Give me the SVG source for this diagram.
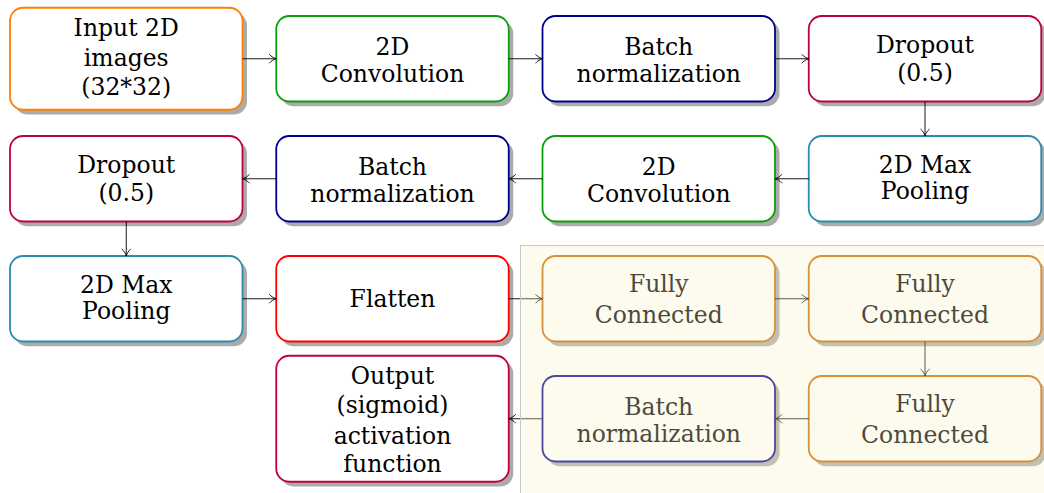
<svg xmlns="http://www.w3.org/2000/svg" width="1044" height="493" viewBox="0 0 1044 493">
  <defs>
    <filter id="soft" x="-5%" y="-5%" width="110%" height="110%">
      <feGaussianBlur stdDeviation="0.5"/>
    </filter>
    <marker id="tip" viewBox="-8 -5 9 10" refX="0" refY="0" markerWidth="9" markerHeight="10" markerUnits="userSpaceOnUse" orient="auto">
      <path d="M -7 -4.5 C -5 -2 -2 -0.6 0 0 C -2 0.6 -5 2 -7 4.5" fill="none" stroke="#000" stroke-width="0.9"/>
    </marker>
    <style>
      .shadow { fill: #ababab; filter: url(#soft); }
      .box { fill: #ffffff; stroke-width: 1.8; }
      .lbl { font-family: "DejaVu Serif", "Liberation Serif", serif; font-size: 23.5px; fill: #000; text-anchor: middle; }
      .orange { stroke: #ff8000; }
      .green { stroke: #0a9f0a; }
      .navy { stroke: #00008b; }
      .purple { stroke: #bf0040; }
      .teal { stroke: #2b8cab; }
      .red { stroke: #ff0000; }
      .amber { stroke: #cc6600; }
      .edge { fill: none; stroke: #000; stroke-width: 0.9; marker-end: url(#tip); }
    </style>
  </defs>

  <rect width="1044" height="493" fill="#ffffff"/>

  <!-- row 1 -->
  <g id="input">
    <rect class="shadow" x="14.5" y="12.5" width="232.5" height="102" rx="13"/>
    <rect class="box orange" x="10" y="7.75" width="232.5" height="102" rx="13"/>
    <text class="lbl" x="126.25" y="36">Input 2D</text>
    <text class="lbl" x="126.25" y="65.7">images</text>
    <text class="lbl" x="126.25" y="95">(32*32)</text>
  </g>
  <g id="conv1">
    <rect class="shadow" x="280.75" y="20.75" width="232.5" height="85.5" rx="13"/>
    <rect class="box green" x="276.25" y="16" width="232.5" height="85.5" rx="13"/>
    <text class="lbl" x="392.5" y="55">2D</text>
    <text class="lbl" x="392.5" y="81.7">Convolution</text>
  </g>
  <g id="bn1">
    <rect class="shadow" x="547" y="20.75" width="232.5" height="85.5" rx="13"/>
    <rect class="box navy" x="542.5" y="16" width="232.5" height="85.5" rx="13"/>
    <text class="lbl" x="658.75" y="55">Batch</text>
    <text class="lbl" x="658.75" y="81.7">normalization</text>
  </g>
  <g id="drop1">
    <rect class="shadow" x="813.25" y="20.75" width="232.5" height="85.5" rx="13"/>
    <rect class="box purple" x="808.75" y="16" width="232.5" height="85.5" rx="13"/>
    <text class="lbl" x="925" y="52.5">Dropout</text>
    <text class="lbl" x="925" y="80.5">(0.5)</text>
  </g>

  <!-- row 2 -->
  <g id="pool1">
    <rect class="shadow" x="813.25" y="140.75" width="232.5" height="85.5" rx="13"/>
    <rect class="box teal" x="808.75" y="136" width="232.5" height="85.5" rx="13"/>
    <text class="lbl" x="925" y="173">2D Max</text>
    <text class="lbl" x="925" y="199.3">Pooling</text>
  </g>
  <g id="conv2">
    <rect class="shadow" x="547" y="140.75" width="232.5" height="85.5" rx="13"/>
    <rect class="box green" x="542.5" y="136" width="232.5" height="85.5" rx="13"/>
    <text class="lbl" x="658.75" y="175">2D</text>
    <text class="lbl" x="658.75" y="201.7">Convolution</text>
  </g>
  <g id="bn2">
    <rect class="shadow" x="280.75" y="140.75" width="232.5" height="85.5" rx="13"/>
    <rect class="box navy" x="276.25" y="136" width="232.5" height="85.5" rx="13"/>
    <text class="lbl" x="392.5" y="175">Batch</text>
    <text class="lbl" x="392.5" y="201.7">normalization</text>
  </g>
  <g id="drop2">
    <rect class="shadow" x="14.5" y="140.75" width="232.5" height="85.5" rx="13"/>
    <rect class="box purple" x="10" y="136" width="232.5" height="85.5" rx="13"/>
    <text class="lbl" x="126.25" y="172.5">Dropout</text>
    <text class="lbl" x="126.25" y="200.5">(0.5)</text>
  </g>

  <!-- row 3 -->
  <g id="pool2">
    <rect class="shadow" x="14.5" y="260.75" width="232.5" height="85.5" rx="13"/>
    <rect class="box teal" x="10" y="256" width="232.5" height="85.5" rx="13"/>
    <text class="lbl" x="126.25" y="293">2D Max</text>
    <text class="lbl" x="126.25" y="319.3">Pooling</text>
  </g>
  <g id="flatten">
    <rect class="shadow" x="280.75" y="260.75" width="232.5" height="85.5" rx="13"/>
    <rect class="box red" x="276.25" y="256" width="232.5" height="85.5" rx="13"/>
    <text class="lbl" x="392.5" y="307">Flatten</text>
  </g>
  <g id="fc1">
    <rect class="shadow" x="547" y="260.75" width="232.5" height="85.5" rx="13"/>
    <rect class="box amber" x="542.5" y="256" width="232.5" height="85.5" rx="13"/>
    <text class="lbl" x="658.75" y="291.7">Fully</text>
    <text class="lbl" x="658.75" y="323.3">Connected</text>
  </g>
  <g id="fc2">
    <rect class="shadow" x="813.25" y="260.75" width="232.5" height="85.5" rx="13"/>
    <rect class="box amber" x="808.75" y="256" width="232.5" height="85.5" rx="13"/>
    <text class="lbl" x="925" y="291.7">Fully</text>
    <text class="lbl" x="925" y="323.3">Connected</text>
  </g>

  <!-- row 4 -->
  <g id="fc3">
    <rect class="shadow" x="813.25" y="380.75" width="232.5" height="85.5" rx="13"/>
    <rect class="box amber" x="808.75" y="376" width="232.5" height="85.5" rx="13"/>
    <text class="lbl" x="925" y="411.7">Fully</text>
    <text class="lbl" x="925" y="443.3">Connected</text>
  </g>
  <g id="bn3">
    <rect class="shadow" x="547" y="380.75" width="232.5" height="85.5" rx="13"/>
    <rect class="box navy" x="542.5" y="376" width="232.5" height="85.5" rx="13"/>
    <text class="lbl" x="658.75" y="415">Batch</text>
    <text class="lbl" x="658.75" y="441.7">normalization</text>
  </g>
  <g id="output">
    <rect class="shadow" x="280.75" y="360.5" width="232.5" height="126" rx="13"/>
    <rect class="box purple" x="276.25" y="355.75" width="232.5" height="126" rx="13"/>
    <text class="lbl" x="392.5" y="383.5">Output</text>
    <text class="lbl" x="392.5" y="413">(sigmoid)</text>
    <text class="lbl" x="392.5" y="443.5">activation</text>
    <text class="lbl" x="392.5" y="471.5">function</text>
  </g>

  <!-- connectors -->
  <g id="connectors">
    <path class="edge" d="M 242.5 58.75 H 276.25"/>
    <path class="edge" d="M 508.75 58.75 H 542.5"/>
    <path class="edge" d="M 775 58.75 H 808.75"/>
    <path class="edge" d="M 925 101.5 V 136"/>
    <path class="edge" d="M 808.75 178.75 H 775"/>
    <path class="edge" d="M 542.5 178.75 H 508.75"/>
    <path class="edge" d="M 276.25 178.75 H 242.5"/>
    <path class="edge" d="M 126.25 221.5 V 256"/>
    <path class="edge" d="M 242.5 298.75 H 276.25"/>
    <path class="edge" d="M 508.75 298.75 H 542.5"/>
    <path class="edge" d="M 775 298.75 H 808.75"/>
    <path class="edge" d="M 925 341.5 V 376"/>
    <path class="edge" d="M 808.75 418.75 H 775"/>
    <path class="edge" d="M 542.5 418.75 H 508.75"/>
  </g>

  <!-- tinted panel laid over the dense block -->
  <rect id="panel" x="520.5" y="245.5" width="530" height="260" fill="#faf0c8" fill-opacity="0.3" stroke="#c8c8c8" stroke-width="1"/>
</svg>
